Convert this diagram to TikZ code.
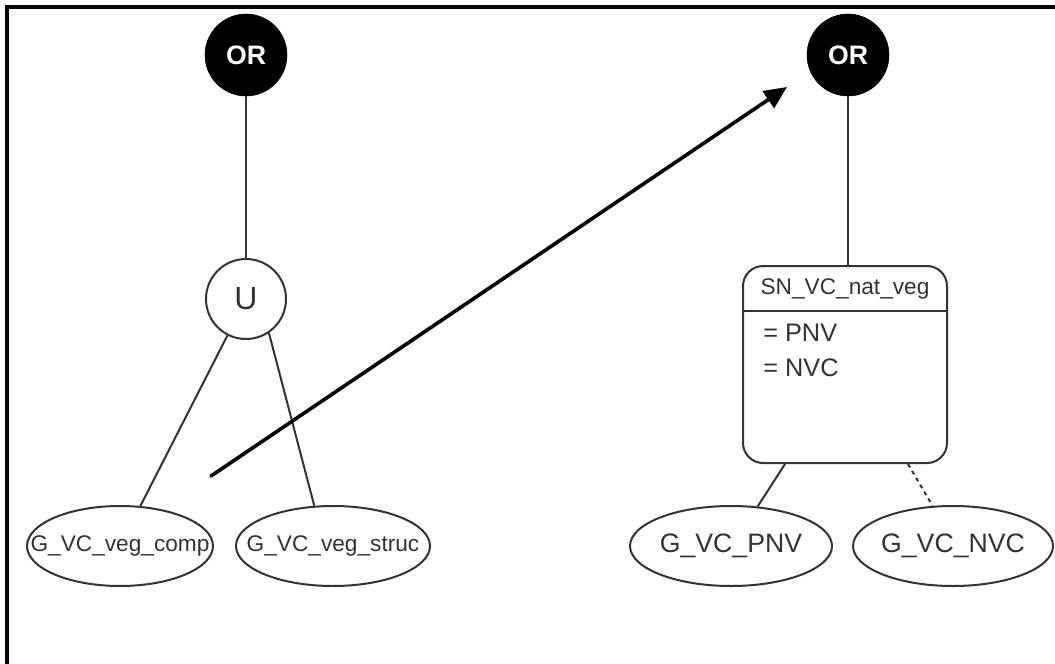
\documentclass[tikz,border=0pt]{standalone}
\usepackage{fontspec}
\setmainfont{Liberation Sans}
\usetikzlibrary{shapes.geometric,arrows.meta}
\definecolor{ln}{HTML}{333333}
\begin{document}
\begin{tikzpicture}[x=0.75pt,y=-0.75pt,
  ornode/.style={circle,fill=black,draw=black,minimum size=61.5pt,inner sep=0pt,text=white,font=\fontsize{20}{22}\selectfont\bfseries},
  unode/.style={circle,draw=ln,line width=1.5pt,minimum size=60pt,inner sep=0pt,text=ln,font=\fontsize{24}{26}\selectfont},
  ellnode/.style={ellipse,draw=ln,line width=1.5pt,minimum height=60pt,inner sep=0pt,text=ln},
  conn/.style={draw=ln,line width=1.5pt},
  boxnode/.style={draw=ln,line width=1.5pt,rounded corners=15pt,minimum width=153pt,minimum height=147.75pt,inner sep=0pt}]
\useasboundingbox (0,0) rectangle (1055,663);
\draw[line width=3pt] (7,680) -- (7,7) -- (1070,7);

% left tree
\node[ornode] (or1) at (246,55) {OR};
\node[unode] (u) at (246,299) {U};
\node[ellnode,minimum width=139.5pt,font=\fontsize{17}{19}\selectfont] (comp) at (120,546) {\makebox[0pt]{G\_VC\_veg\_comp}};
\node[ellnode,minimum width=145.5pt,font=\fontsize{17}{19}\selectfont] (struc) at (333,546) {\makebox[0pt]{G\_VC\_veg\_struc}};
\draw[conn] (or1) -- (u);
\draw[conn] (u.-117) -- (comp.63);
\draw[conn] (u.-56) -- (struc.115);

% right tree
\node[ornode] (or2) at (848,55) {OR};
\node[boxnode] (sn) at (845,364.5) {};
\node[font=\fontsize{17}{19}\selectfont,text=ln] (title) at (845,289) {SN\_VC\_nat\_veg};
\draw[conn] ([yshift=-34.5pt]sn.north west) -- ([yshift=-34.5pt]sn.north east);
\node[anchor=west,inner sep=0pt,font=\fontsize{19}{21}\selectfont,text=ln] (pnvattr) at (763,333) {= PNV};
\node[anchor=west,inner sep=0pt,font=\fontsize{19}{21}\selectfont,text=ln] (nvcattr) at (763,368) {= NVC};
\node[ellnode,minimum width=151.5pt,font=\fontsize{20}{22}\selectfont] (pnv) at (731,546) {\makebox[0pt]{G\_VC\_PNV}};
\node[ellnode,minimum width=150pt,font=\fontsize{20}{22}\selectfont] (nvc) at (953,546) {\makebox[0pt]{G\_VC\_NVC}};
\draw[conn] (or2.south) -- (or2.south |- sn.north);
\draw[conn] ([xshift=-45pt]sn.south) -- (pnv.56);
\draw[conn,dashed] ([xshift=47.25pt]sn.south) -- (nvc.117);

% arrow
\coordinate (as) at (211,476);
\coordinate (ae) at (787,87);
\draw[line width=2.7pt,line cap=round,-{Triangle[length=17pt,width=15pt]}] (as) -- (ae);
\end{tikzpicture}
\end{document}
